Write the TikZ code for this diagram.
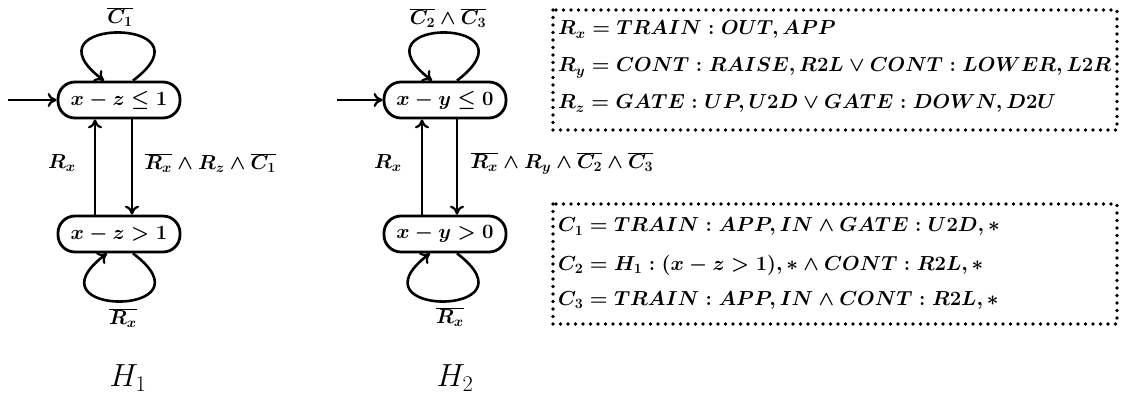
\RequirePackage{fix-cm}
\documentclass[tikz,border=0pt]{standalone}
\usetikzlibrary{arrows.meta,calc}
\begin{document}
\begin{tikzpicture}[x=1pt,y=-1pt,
  lbl/.style={font=\fontsize{20.3}{25}\selectfont\boldmath},
  state/.style={lbl,draw,line width=2.8pt,rounded corners=17pt,minimum width=122pt,minimum height=36pt,inner sep=0pt},
  arr/.style={line width=2.6pt,-{To[length=9pt,width=14pt,line width=2.2pt]}},
  info/.style={draw,line width=3.6pt,dash pattern=on 0pt off 7.5pt,line cap=round},
  txt/.style={lbl,anchor=base west,inner sep=0pt},
  title/.style={font=\fontsize{32}{36}\selectfont}]
\useasboundingbox (0,0) rectangle (1121,395);

% ---------- H1 ----------
\node[state] (t1) at (119,100) {$x-z\le 1$};
\node[state] (b1) at (119,234) {$x-z>1$};
\coordinate (i1) at (8,100);
\draw[arr] (i1) -- (t1.west);
\draw[arr] ([xshift=14pt]t1.north) .. controls +(85,-64) and +(-85,-64) .. ([xshift=-15pt]t1.north);
\draw[arr] ([xshift=14pt]b1.south) .. controls +(85,64) and +(-85,64) .. ([xshift=-12pt]b1.south);
\draw[arr] ([xshift=-24pt]b1.north) -- ([xshift=-24pt]t1.south);
\draw[arr] ([xshift=13pt]t1.south) -- ([xshift=13pt]b1.north);
\node[lbl] (l1a) at (120,17) {$\overline{C_1}$};
\node[lbl] (l1b) at (62,163) {$R_x$};
\node[lbl,anchor=west] (l1c) at (141,163) {$\overline{R_x}\wedge R_z\wedge\overline{C_1}$};
\node[lbl] (l1d) at (123,318) {$\overline{R_x}$};
\node[title] (h1) at (128,378) {$H_1$};

% ---------- H2 ----------
\node[state] (t2) at (445,100) {$x-y\le 0$};
\node[state] (b2) at (445,234) {$x-y>0$};
\coordinate (i2) at (337,100);
\draw[arr] (i2) -- (t2.west);
\draw[arr] ([xshift=12pt]t2.north) .. controls +(84,-64) and +(-84,-64) .. ([xshift=-13pt]t2.north);
\draw[arr] ([xshift=12pt]b2.south) .. controls +(84,64) and +(-84,64) .. ([xshift=-15pt]b2.south);
\draw[arr] ([xshift=-23pt]b2.north) -- ([xshift=-23pt]t2.south);
\draw[arr] ([xshift=12pt]t2.south) -- ([xshift=12pt]b2.north);
\node[lbl] (l2a) at (448,18) {$\overline{C_2}\wedge\overline{C_3}$};
\node[lbl] (l2b) at (388,163) {$R_x$};
\node[lbl,anchor=west] (l2c) at (467,163) {$\overline{R_x}\wedge R_y\wedge\overline{C_2}\wedge\overline{C_3}$};
\node[lbl] (l2d) at (450,317) {$\overline{R_x}$};
\node[title] (h2) at (455,378) {$H_2$};

% ---------- boxes ----------
\draw[info] (553,10) rectangle (1117,130);
\node[txt] (r1) at (558,35) {$R_x = TRAIN : OUT, APP$};
\node[txt] (r2) at (558,72) {$R_y = CONT : RAISE, R2L \vee CONT : LOWER, L2R$};
\node[txt] (r3) at (558,109) {$R_z = GATE : UP, U2D \vee GATE : DOWN, D2U$};

\draw[info] (553,204) rectangle (1117,324);
\node[txt] (c1) at (558,232) {$C_1 = TRAIN : APP, IN \wedge GATE : U2D, *$};
\node[txt] (c2) at (558,270) {$C_2 = H_1 : (x-z>1), * \wedge CONT : R2L, *$};
\node[txt] (c3) at (558,305) {$C_3 = TRAIN : APP, IN \wedge CONT : R2L, *$};
\end{tikzpicture}
\end{document}
